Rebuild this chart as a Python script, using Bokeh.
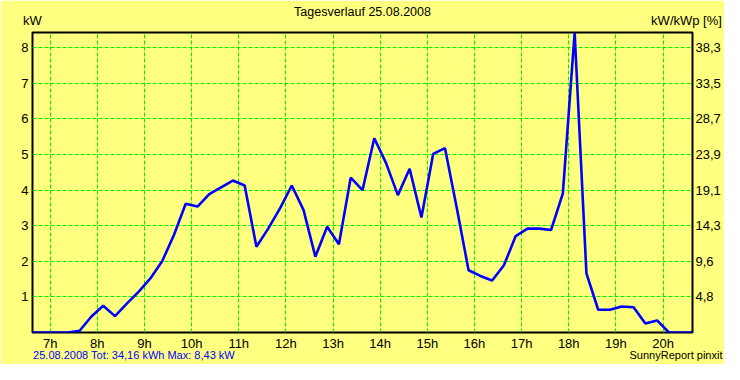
from bokeh.plotting import figure
from bokeh.models import Range1d, FixedTicker, LinearAxis, ColumnDataSource
from bokeh.embed import file_html
from bokeh.resources import INLINE

# ---- data (15-minute averages, time = interval midpoint in hours) ----
hours = [6.625, 6.875, 7.125, 7.375, 7.625, 7.875, 8.125, 8.375, 8.625, 8.875,
         9.125, 9.375, 9.625, 9.875, 10.125, 10.375, 10.625, 10.875, 11.125, 11.375,
         11.625, 11.875, 12.125, 12.375, 12.625, 12.875, 13.125, 13.375, 13.625, 13.875,
         14.125, 14.375, 14.625, 14.875, 15.125, 15.375, 15.625, 15.875, 16.125, 16.375,
         16.625, 16.875, 17.125, 17.375, 17.625, 17.875, 18.125, 18.375, 18.625, 18.875,
         19.125, 19.375, 19.625, 19.875, 20.125, 20.375, 20.625]
power_kw = [0.0, 0.0, 0.0, 0.0, 0.05, 0.45, 0.75, 0.46, 0.81, 1.14,
            1.52, 2.00, 2.74, 3.62, 3.54, 3.89, 4.08, 4.27, 4.13, 2.41,
            2.92, 3.49, 4.13, 3.44, 2.13, 2.97, 2.48, 4.35, 4.00, 5.46,
            4.76, 3.86, 4.60, 3.23, 5.02, 5.18, 3.50, 1.75, 1.59, 1.46,
            1.89, 2.71, 2.92, 2.92, 2.88, 3.91, 8.43, 1.66, 0.64, 0.64,
            0.73, 0.71, 0.25, 0.34, 0.0, 0.0, 0.0]

x_ticks = [7, 8, 9, 10, 11, 12, 13, 14, 15, 16, 17, 18, 19, 20]
x_tick_labels = ["7h", "8h", "9h", "10h", "11h", "12h", "13h", "14h", "15h", "16h",
                 "17h", "18h", "19h", "20h"]
y_ticks = [1, 2, 3, 4, 5, 6, 7, 8]
y_tick_labels = ["1", "2", "3", "4", "5", "6", "7", "8"]
pct_tick_labels = ["4,8", "9,6", "14,3", "19,1", "23,9", "28,7", "33,5", "38,3"]

x_start, x_end = 6.625, 20.625
y_max = 8.43

title_text = "Tagesverlauf 25.08.2008"
left_unit = "kW"
right_unit = "kW/kWp [%]"
footer_left = "25.08.2008 Tot: 34,16 kWh Max: 8,43 kW"
footer_right = "SunnyReport pinxit"

BG = "#ffff80"
GRID = "#00f000"
FONT = "Liberation Sans"

W, H = 724, 364
ML, MR, MT, MB = 32, 32, 32, 32
frame_w = W - ML - MR
px_per_h = frame_w / (x_end - x_start)

p = figure(width=W, height=H, output_backend="svg", toolbar_location=None,
           title=None, x_range=Range1d(x_start, x_end), y_range=Range1d(0, y_max),
           min_border_left=ML, min_border_right=MR, min_border_top=MT,
           min_border_bottom=MB)
p.background_fill_color = BG
p.border_fill_color = BG
p.outline_line_color = "black"
p.outline_line_width = 2

# keep handles on the default axes / grids before more axes are added
xa = p.below[0]
ya = p.left[0]
xg = p.xgrid[0]
yg = p.ygrid[0]

src = ColumnDataSource(dict(h=hours, kw=power_kw))
p.line("h", "kw", source=src, line_color="#0000ff", line_width=2.6)

# main axes
xa.ticker = FixedTicker(ticks=x_ticks)
xa.major_label_overrides = dict(zip(x_ticks, x_tick_labels))
ya.ticker = FixedTicker(ticks=y_ticks)
ya.major_label_overrides = dict(zip(y_ticks, y_tick_labels))

right = LinearAxis(ticker=FixedTicker(ticks=y_ticks),
                   major_label_overrides=dict(zip(y_ticks, pct_tick_labels)))
p.add_layout(right, "right")

# top: unit captions centred on the two frame edges, chart title as axis label
unit_pos = [x_start, x_end - 6 / px_per_h]
top = LinearAxis(ticker=FixedTicker(ticks=unit_pos),
                 major_label_overrides={unit_pos[0]: left_unit, unit_pos[1]: right_unit},
                 axis_label=title_text)
p.add_layout(top, "above")

# footer line: two caption axes below the hour axis (second one pulled up into the same row)
foot_left_w = 203
foot_right_w = 93
fl_pos = x_start + (foot_left_w / 2) / px_per_h
fr_pos = x_end + (30 - foot_right_w / 2) / px_per_h
foot_l = LinearAxis(ticker=FixedTicker(ticks=[fl_pos]),
                    major_label_overrides={fl_pos: footer_left})
foot_r = LinearAxis(ticker=FixedTicker(ticks=[fr_pos]),
                    major_label_overrides={fr_pos: footer_right})
p.add_layout(foot_l, "below")
p.add_layout(foot_r, "below")

for ax in [xa, ya, right, top, foot_l, foot_r]:
    ax.major_tick_line_color = None
    ax.minor_tick_line_color = None
    ax.major_tick_out = 0
    ax.major_tick_in = 0
    ax.minor_tick_out = 0
    ax.minor_tick_in = 0
    ax.axis_line_color = None
    ax.axis_label_standoff = 0
    ax.major_label_text_font = FONT
    ax.major_label_text_font_size = "13px"
    ax.major_label_text_color = "black"

xa.major_label_standoff = 3
ya.major_label_standoff = 4
right.major_label_standoff = 3
top.major_label_standoff = 5
top.axis_label_standoff = -9
top.axis_label_text_font = FONT
top.axis_label_text_font_size = "12.5px"
top.axis_label_text_font_style = "normal"
top.axis_label_text_color = "black"
for ax in [foot_l, foot_r]:
    ax.major_label_text_font_size = "11px"
foot_l.major_label_text_color = "#0000ff"
foot_l.major_label_standoff = -5
foot_r.major_label_standoff = -15

# grid
for g in [xg, yg]:
    g.grid_line_color = GRID
    g.grid_line_dash = "4 2"
    g.grid_line_width = 1
xg.ticker = FixedTicker(ticks=x_ticks)
yg.ticker = FixedTicker(ticks=y_ticks)

open("out.html", "w").write(file_html(p, INLINE))
